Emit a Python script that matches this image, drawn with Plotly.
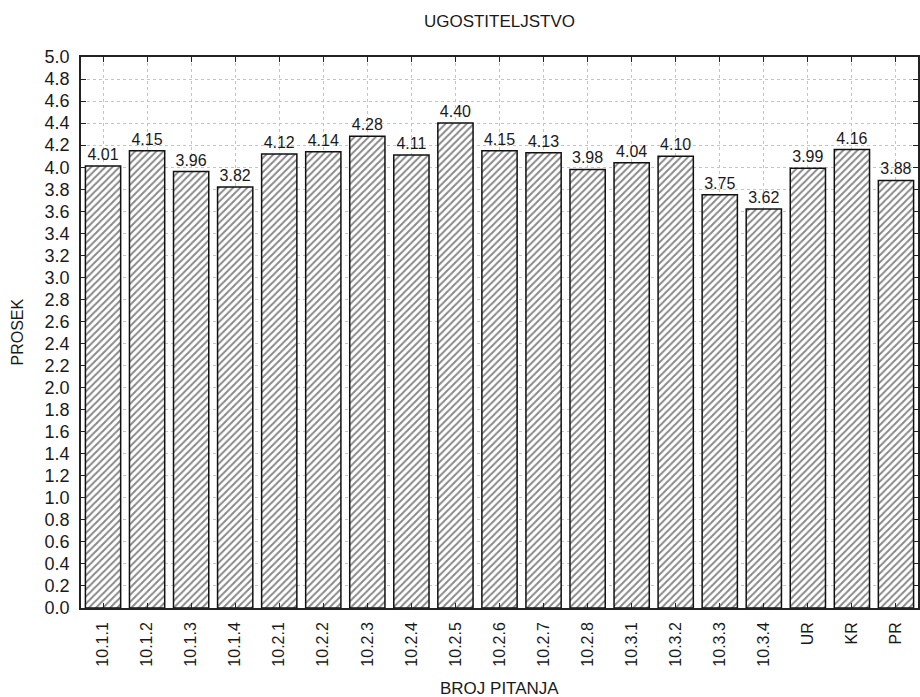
import plotly.graph_objects as go

categories = ["10.1.1", "10.1.2", "10.1.3", "10.1.4", "10.2.1", "10.2.2", "10.2.3", "10.2.4",
              "10.2.5", "10.2.6", "10.2.7", "10.2.8", "10.3.1", "10.3.2", "10.3.3", "10.3.4",
              "UR", "KR", "PR"]
values = [4.01, 4.15, 3.96, 3.82, 4.12, 4.14, 4.28, 4.11, 4.40, 4.15, 4.13, 3.98,
          4.04, 4.10, 3.75, 3.62, 3.99, 4.16, 3.88]
y_ticks = [round(i * 0.2, 1) for i in range(26)]

FONT = "Liberation Sans, Arial, sans-serif"
TXT = "#1a1a1a"

fig = go.Figure(go.Bar(
    x=categories,
    y=values,
    text=[f"{v:.2f}" for v in values],
    textposition="outside",
    textfont=dict(family=FONT, size=16, color=TXT),
    cliponaxis=False,
    marker=dict(
        color="white",
        line=dict(color="#111", width=1.5),
        pattern=dict(shape="/", fgcolor="#111", bgcolor="white", size=5, solidity=0.4),
    ),
    hoverinfo="skip",
))

fig.update_layout(
    width=920, height=697,
    margin=dict(l=81, r=2, t=57, b=89, autoexpand=False),
    paper_bgcolor="white", plot_bgcolor="white",
    bargap=0.2,
    showlegend=False,
    font=dict(family=FONT, color=TXT),
    title=dict(text="UGOSTITELJSTVO", x=0.5, xref="paper", xanchor="center",
               y=1 - 21 / 697, yanchor="middle",
               font=dict(family=FONT, size=17, color=TXT)),
    annotations=[
        dict(text="BROJ PITANJA", xref="paper", yref="paper", x=0.5, y=-80 / 551,
             xanchor="center", yanchor="middle", showarrow=False,
             font=dict(family=FONT, size=17, color=TXT)),
        dict(text="PROSEK", xref="paper", yref="paper", x=-64 / 837, y=0.5,
             xanchor="center", yanchor="middle", showarrow=False, textangle=-90,
             font=dict(family=FONT, size=16, color=TXT)),
    ],
)

fig.update_xaxes(
    type="category",
    automargin=False,
    showline=True, linecolor="#222", linewidth=1.5, mirror="ticks",
    ticks="inside", ticklen=5, tickcolor="#222",
    tickangle=-90, ticklabelstandoff=6,
    tickfont=dict(family=FONT, size=16, color=TXT),
    showgrid=True, gridcolor="#c4c4c4", griddash="dot", gridwidth=1,
)

fig.update_yaxes(
    range=[0, 5.0],
    automargin=False,
    tickvals=y_ticks,
    ticktext=[f"{t:.1f}" for t in y_ticks],
    showline=True, linecolor="#222", linewidth=1.5, mirror="ticks",
    ticks="inside", ticklen=5, tickcolor="#222",
    ticklabelstandoff=6,
    tickfont=dict(family=FONT, size=18, color=TXT),
    showgrid=True, gridcolor="#c4c4c4", griddash="dot", gridwidth=1,
    zeroline=False,
)

fig.write_html("out.html", config={"displayModeBar": False},
               post_script="document.body.style.margin='0';")
